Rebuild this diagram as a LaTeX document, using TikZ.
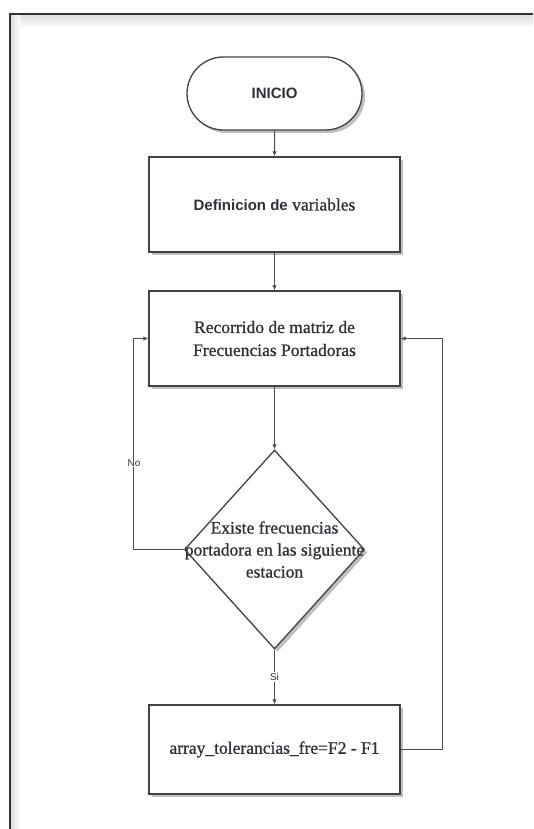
\documentclass[tikz,border=0pt]{standalone}
\usepackage{fontspec}
\setmainfont{Liberation Serif}
\setsansfont{Liberation Sans}
\newfontfamily\semiserif[FakeBold=0.9]{Liberation Serif}
\usetikzlibrary{shapes.geometric,shapes.misc,shadows,arrows.meta}
\definecolor{edgecol}{HTML}{3F4347}
\definecolor{txtcol}{HTML}{2E3236}
\definecolor{linecol}{HTML}{4A4E52}
\begin{document}
\begin{tikzpicture}[x=1pt,y=-1pt,
  shad/.style={drop shadow={shadow xshift=3pt,shadow yshift=-3pt,fill=black,opacity=0.25}},
  box/.style={draw=edgecol,line width=1.3pt,fill=white,minimum width=251pt,shad,
    font=\semiserif\fontsize{17.5}{23}\selectfont,text=txtcol,align=center,inner sep=0pt},
  term/.style={rounded rectangle,draw=edgecol,line width=1.3pt,fill=white,shad,
    minimum width=175pt,minimum height=73pt,text=txtcol,inner sep=0pt,
    font=\sffamily\bfseries\fontsize{15}{18}\selectfont},
  decis/.style={diamond,draw=edgecol,line width=1.3pt,fill=white,shad,
    minimum width=180pt,minimum height=199pt,inner sep=0pt},
  conn/.style={draw=linecol,line width=1pt,-{Latex[length=5pt,width=4.5pt]}},
  lbl/.style={fill=white,text=txtcol,inner sep=1pt,font=\sffamily\fontsize{10}{12}\selectfont}]
\useasboundingbox (0,0) rectangle (533,829);
\fill[white] (0,0) rectangle (533,829);
% frame
\shade[top color=black!13,bottom color=white] (11,15) rectangle (533,28);
\shade[left color=black!13,right color=white] (11,15) rectangle (20,829);
\draw[line width=2pt,black!80] (533,14) -- (10,14) -- (10,829);
% nodes
\node[term] (ini) at (274.5,93.5) {INICIO};
\node[box,minimum height=95pt] (def) at (274.5,204.5)
  {{\sffamily\bfseries\fontsize{15}{18}\selectfont Definicion de} variables};
\node[box,minimum height=95pt] (rec) at (274.5,338.5)
  {Recorrido de matriz de\\Frecuencias Portadoras};
\node[decis,label={[align=center,text=txtcol,font=\semiserif\fontsize{17.5}{22}\selectfont]center:Existe frecuencias\\portadora en las siguiente\\estacion}] (dec) at (274.5,549.5) {};
\node[box,minimum height=89pt] (arr) at (274.5,749.5)
  {array\_tolerancias\_fre=F2 - F1};
% connectors
\draw[conn] (ini) -- (def);
\draw[conn] (def) -- (rec);
\draw[conn] (rec) -- (dec);
\draw[conn] (dec.west) -| ([xshift=-15pt]rec.west) -- (rec.west);
\node[lbl] (no) at (134,463) {No};
\draw[conn] (dec.south) -- node[lbl] (si) {Si} (arr.north);
\draw[conn] (arr.east) -| ([xshift=42pt]rec.east) -- (rec.east);
\end{tikzpicture}
\end{document}
